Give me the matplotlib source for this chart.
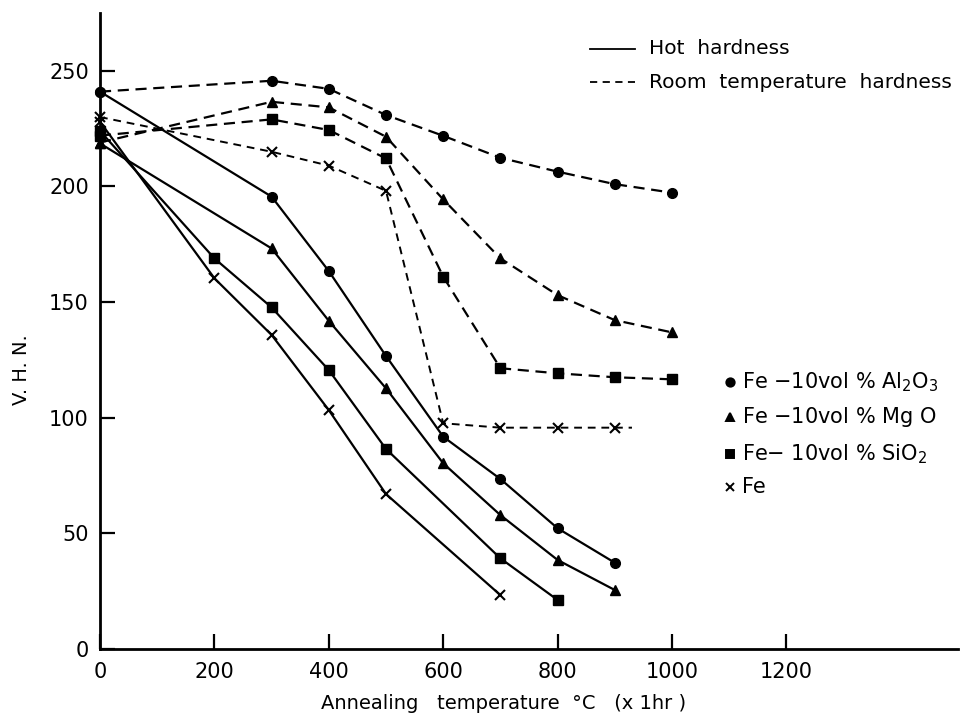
import matplotlib
matplotlib.use("Agg")
from matplotlib import pyplot as plt
from matplotlib.lines import Line2D

plt.rcParams['font.family'] = ['DejaVu Sans']
plt.rcParams['mathtext.fontset'] = 'dejavusans'

# room temperature hardness (dashed)
room_t = [0, 300, 400, 500, 600, 700, 800, 900, 1000]
al_room = [241, 245.7, 242.2, 230.9, 221.9, 212.4, 206.4, 201, 197.3]
mgo_room = [219, 236.6, 234.2, 221.5, 194.4, 168.9, 153, 142.2, 136.9]
sio2_room = [222, 229, 224.4, 212.1, 161, 121.4, 119.2, 117.5, 116.6]
fe_room_t = [0, 300, 400, 500, 600, 700, 800, 900, 930]
fe_room = [230, 215, 209, 198.1, 97.6, 95.7, 95.7, 95.7, 95.7]

# hot hardness (solid)
al_hot_t = [0, 300, 400, 500, 600, 700, 800, 900]
al_hot = [241, 195.6, 163.4, 126.7, 91.8, 73.5, 52.2, 37.3]
mgo_hot_t = [0, 300, 400, 500, 600, 700, 800, 900]
mgo_hot = [218.6, 173.2, 141.9, 112.7, 80.3, 57.9, 38.5, 25.5]
sio2_hot_t = [0, 200, 300, 400, 500, 700, 800]
sio2_hot = [224, 168.9, 147.7, 120.6, 86.5, 39.2, 21.2]
fe_hot_t = [0, 200, 300, 400, 500, 700]
fe_hot = [228, 160.3, 135.8, 103.3, 67, 23.3]

x_ticks = [0, 200, 400, 600, 800, 1000, 1200]
y_ticks = [0, 50, 100, 150, 200, 250]
materials = ["Fe $-$10vol % Al$_2$O$_3$", "Fe $-$10vol % Mg O",
             "Fe$-$ 10vol % SiO$_2$", "Fe"]
markers = ['o', '^', 's', 'x']

W, H = 963, 716
fig = plt.figure(figsize=(W / 100, H / 100), dpi=100)
ax = fig.add_axes([100 / W, (H - 649) / H, 858 / W, 636 / H])

dash = (0, (5, 3))
lw = 1.6
ms = 7
kw = dict(color='black', lw=lw, ms=ms, clip_on=False)

ax.plot(room_t, al_room, ls=dash, marker='o', **kw)
ax.plot(room_t, mgo_room, ls=dash, marker='^', **kw)
ax.plot(room_t, sio2_room, ls=dash, marker='s', **kw)
ax.plot(fe_room_t, fe_room, ls=(0, (4, 3)), lw=1.4, marker='x', ms=7, mew=1.5,
        color='black', markevery=list(range(len(fe_room_t) - 1)), clip_on=False)

ax.plot(al_hot_t, al_hot, ls='-', marker='o', **kw)
ax.plot(mgo_hot_t, mgo_hot, ls='-', marker='^', **kw)
ax.plot(sio2_hot_t, sio2_hot, ls='-', marker='s', **kw)
ax.plot(fe_hot_t, fe_hot, ls='-', marker='x', mew=1.5, **kw)

ax.set_xlim(0, 1500)
ax.set_ylim(0, 275)
ax.set_xticks(x_ticks)
ax.set_yticks(y_ticks)
ax.tick_params(direction='in', length=11, width=1.6, labelsize=15, pad=8)
ax.tick_params(axis='x', pad=9)
for s in ['top', 'right']:
    ax.spines[s].set_visible(False)
for s in ['left', 'bottom']:
    ax.spines[s].set_linewidth(2)

ax.set_xlabel("Annealing   temperature  °C   (x 1hr )", fontsize=14)
ax.xaxis.set_label_coords((504 - 100) / 858, (649 - 694) / 636)
ax.set_ylabel("V. H. N.", fontsize=14)
ax.yaxis.set_label_coords((31 - 100) / 858, (649 - 370) / 636)

# line style key
for y, ls, txt in [(49, '-', "Hot  hardness"),
                   (82, (0, (4, 3)), "Room  temperature  hardness")]:
    fig.add_artist(Line2D([590 / W, 635 / W], [1 - y / H, 1 - y / H],
                          color='black', lw=1.3, ls=ls))
    fig.text(649 / W, 1 - y / H, txt, fontsize=14.5, va='center', ha='left')

# material key
for y, m, txt in zip([382, 417, 454, 487], markers, materials):
    fig.add_artist(Line2D([730 / W], [1 - y / H], marker=m, color='black',
                          ms=6, mew=1.4, ls='none'))
    fig.text(742 / W, 1 - y / H, txt, fontsize=15, va='center', ha='left')

fig.savefig("out.png", dpi=100)
